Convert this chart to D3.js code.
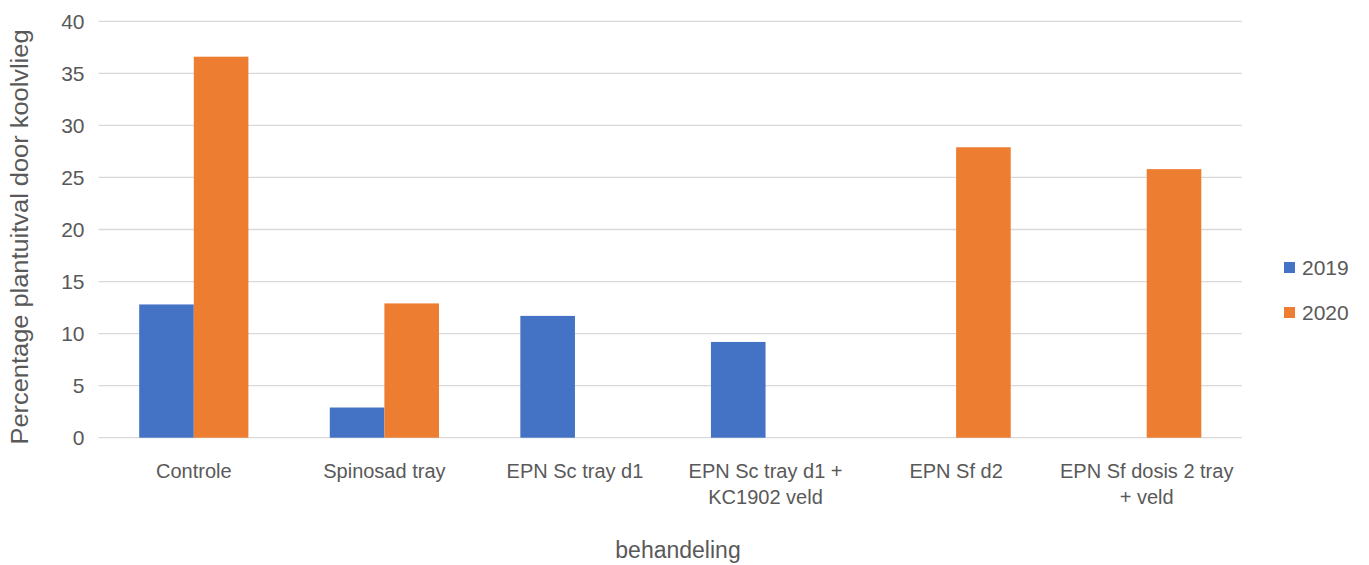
<!DOCTYPE html>
<html>
<head>
<meta charset="utf-8">
<script src="https://cdn.jsdelivr.net/npm/d3@7"></script>
<style>
  body { margin: 0; background: #fff; }
  text { font-family: "Liberation Sans", "DejaVu Sans", sans-serif; fill: #595959; }
</style>
</head>
<body>
<svg id="chart" width="1369" height="565"></svg>
<script>
// categorieen (regels van het label)
var categorieen = [
  ["Controle"],
  ["Spinosad tray"],
  ["EPN Sc tray d1"],
  ["EPN Sc tray d1 +", "KC1902 veld"],
  ["EPN Sf d2"],
  ["EPN Sf dosis 2 tray", "+ veld"]
];
var jaren = ["2019", "2020"];
var waarden2019 = [12.8, 2.9, 11.7, 9.2, 0, 0];
var waarden2020 = [36.6, 12.9, 0, 0, 27.9, 25.8];
var yTicks = [0, 5, 10, 15, 20, 25, 30, 35, 40];
var kleuren = ["#4472C4", "#ED7D31"];

var svg = d3.select("#chart");
var links = 98.5, rechts = 1242, boven = 21.3, onder = 437.7;

var x0 = d3.scaleBand()
  .domain(d3.range(categorieen.length))
  .range([links, rechts])
  .paddingInner(0.427)
  .paddingOuter(0.2135);
var x1 = d3.scaleBand().domain(jaren).range([0, x0.bandwidth()]);
var y = d3.scaleLinear().domain([0, 40]).range([onder, boven]);

//rasterlijnen
svg.append("g").selectAll("line")
  .data(yTicks)
  .enter().append("line")
  .attr("x1", links).attr("x2", rechts)
  .attr("y1", function(d) { return y(d); })
  .attr("y2", function(d) { return y(d); })
  .attr("stroke", "#d9d9d9")
  .attr("stroke-width", 1.3);

//y-as
var yAxis = d3.axisLeft(y).tickValues(yTicks).tickSize(0).tickPadding(14);
var gy = svg.append("g").attr("transform", "translate(" + links + ",0)").call(yAxis);
gy.select(".domain").remove();
gy.selectAll("text").style("font-size", "21px").attr("fill", "#595959");

//staven
var reeksen = [waarden2019, waarden2020];
reeksen.forEach(function(reeks, j) {
  svg.append("g").selectAll("rect")
    .data(reeks)
    .enter().append("rect")
    .attr("x", function(d, i) { return x0(i) + x1(jaren[j]); })
    .attr("y", function(d) { return y(d); })
    .attr("width", x1.bandwidth())
    .attr("height", function(d) { return onder - y(d); })
    .attr("fill", kleuren[j]);
});

//categorie labels
var lab = svg.append("g").selectAll("text")
  .data(categorieen)
  .enter().append("text")
  .attr("text-anchor", "middle")
  .style("font-size", "20px")
  .attr("x", function(d, i) { return x0(i) + x0.bandwidth() / 2; })
  .attr("y", 478);
lab.selectAll("tspan")
  .data(function(d) { return d; })
  .enter().append("tspan")
  .attr("x", function() { return this.parentNode.getAttribute("x"); })
  .attr("dy", function(d, k) { return k === 0 ? 0 : 26; })
  .text(function(d) { return d; });

//astitels
svg.append("text")
  .attr("x", 678)
  .attr("y", 558)
  .attr("text-anchor", "middle")
  .style("font-size", "23px")
  .text("behandeling");

svg.append("text")
  .attr("transform", "translate(28,237) rotate(-90)")
  .attr("text-anchor", "middle")
  .style("font-size", "23px")
  .attr("textLength", 415)
  .attr("lengthAdjust", "spacingAndGlyphs")
  .text("Percentage plantuitval door koolvlieg");

//legenda
var leg = svg.append("g").selectAll("g")
  .data(jaren)
  .enter().append("g")
  .attr("transform", function(d, i) { return "translate(1284," + (262 + i * 45) + ")"; });
leg.append("rect").attr("width", 11).attr("height", 11)
  .attr("fill", function(d, i) { return kleuren[i]; });
leg.append("text").attr("x", 18).attr("y", 13)
  .style("font-size", "21px")
  .text(function(d) { return d; });
</script>
</body>
</html>
